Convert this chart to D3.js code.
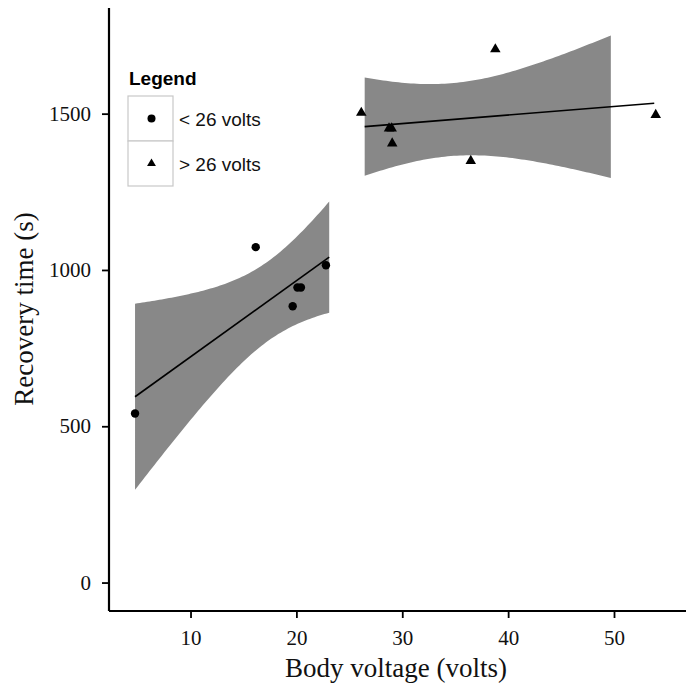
<!DOCTYPE html>
<html>
<head>
<meta charset="utf-8">
<script src="https://cdn.jsdelivr.net/npm/d3@7"></script>
<style>
  body { margin: 0; background: #fff; }
  svg { display: block; }
</style>
</head>
<body>
<script>
// groups split at 26 volts
const lowVolts = [4.76, 16.16, 20.1, 20.43, 19.65, 22.79];
const lowTime = [541, 1073, 944, 944, 884, 1015];
const highVolts = [26.13, 28.75, 29.0, 29.05, 38.79, 36.47, 53.94];
const highTime = [1503, 1453, 1453, 1405, 1706, 1349, 1496];

// x extents of the fitted line and its band
const lowLineRange = [4.76, 23.1];
const lowBandRange = [4.76, 23.1];
const highLineRange = [26.45, 53.8];
const highBandRange = [26.45, 49.7];

const xTicks = [10, 20, 30, 40, 50];
const yTicks = [0, 500, 1000, 1500];
const legendLabels = ["< 26 volts", "> 26 volts"];

// t quantiles (0.975) by degrees of freedom
const tQuant = { 4: 2.776445, 5: 2.570582 };

const width = 686, height = 683;

const svg = d3.select("body").append("svg")
    .attr("width", width)
    .attr("height", height);

const x = d3.scaleLinear().domain([2.3, 56.8]).range([109, 686]);
const y = d3.scaleLinear().domain([-91, 1838]).range([611, 8]);

// simple lm with 95% confidence band
function fitLm(xs, ys) {
    const n = xs.length;
    const mx = d3.mean(xs), my = d3.mean(ys);
    let sxx = 0, sxy = 0;
    xs.forEach(function (v, i) {
        sxx += (v - mx) * (v - mx);
        sxy += (v - mx) * (ys[i] - my);
    });
    const b = sxy / sxx, a = my - b * mx;
    let sse = 0;
    xs.forEach(function (v, i) {
        const r = ys[i] - (a + b * v);
        sse += r * r;
    });
    const s = Math.sqrt(sse / (n - 2));
    const t = tQuant[n - 2];
    return {
        pred: function (v) { return a + b * v; },
        half: function (v) { return t * s * Math.sqrt(1 / n + (v - mx) * (v - mx) / sxx); }
    };
}

function drawGroup(xs, ys, lineRange, bandRange) {
    const fit = fitLm(xs, ys);
    const grid = d3.range(0, 81).map(function (i) {
        return bandRange[0] + (bandRange[1] - bandRange[0]) * i / 80;
    });
    svg.append("path")
        .datum(grid)
        .attr("fill", "#888888")
        .attr("d", d3.area()
            .x(function (d) { return x(d); })
            .y0(function (d) { return y(fit.pred(d) - fit.half(d)); })
            .y1(function (d) { return y(fit.pred(d) + fit.half(d)); }));
    svg.append("path")
        .datum(lineRange)
        .attr("fill", "none")
        .attr("stroke", "#000")
        .attr("stroke-width", 1.6)
        .attr("d", d3.line()
            .x(function (d) { return x(d); })
            .y(function (d) { return y(fit.pred(d)); }));
}

drawGroup(lowVolts, lowTime, lowLineRange, lowBandRange);
drawGroup(highVolts, highTime, highLineRange, highBandRange);

// points
svg.append("g").selectAll("circle")
    .data(d3.zip(lowVolts, lowTime))
    .join("circle")
    .attr("cx", function (d) { return x(d[0]); })
    .attr("cy", function (d) { return y(d[1]); })
    .attr("r", 4.2)
    .attr("fill", "#000");

const tri = d3.symbol().type(d3.symbolTriangle).size(48);
svg.append("g").selectAll("path")
    .data(d3.zip(highVolts, highTime))
    .join("path")
    .attr("transform", function (d) { return "translate(" + x(d[0]) + "," + y(d[1]) + ")"; })
    .attr("d", tri)
    .attr("fill", "#000");

// axes
const xAxis = svg.append("g")
    .attr("transform", "translate(0,611)")
    .call(d3.axisBottom(x).tickValues(xTicks).tickSize(7).tickPadding(12).tickFormat(d3.format("d")));
const yAxis = svg.append("g")
    .attr("transform", "translate(109,0)")
    .call(d3.axisLeft(y).tickValues(yTicks).tickSize(7).tickPadding(11).tickFormat(d3.format("d")));

[xAxis, yAxis].forEach(function (g) {
    g.select(".domain").attr("stroke", "#000").attr("stroke-width", 2.2);
    g.selectAll(".tick line").attr("stroke", "#000").attr("stroke-width", 1.8);
    g.selectAll(".tick text")
        .attr("fill", "#111")
        .style("font-family", "'Liberation Serif', 'Times New Roman', serif")
        .style("font-size", "21px");
});
xAxis.select(".domain").attr("d", "M109,0H686");
yAxis.select(".domain").attr("d", "M0,8V611");

svg.append("text")
    .attr("x", 396)
    .attr("y", 677)
    .attr("text-anchor", "middle")
    .style("font-family", "'Liberation Serif', 'Times New Roman', serif")
    .style("font-size", "27px")
    .attr("fill", "#111")
    .text("Body voltage (volts)");

svg.append("text")
    .attr("transform", "translate(33,309) rotate(-90)")
    .attr("text-anchor", "middle")
    .style("font-family", "'Liberation Serif', 'Times New Roman', serif")
    .style("font-size", "27px")
    .attr("fill", "#111")
    .text("Recovery time (s)");

// legend
const leg = svg.append("g").attr("transform", "translate(128,0)");
leg.append("text")
    .attr("x", 1)
    .attr("y", 85)
    .style("font-family", "'Liberation Sans', Arial, sans-serif")
    .style("font-size", "19px")
    .style("font-weight", "bold")
    .text("Legend");

const keys = leg.selectAll("g.key")
    .data(legendLabels)
    .join("g")
    .attr("class", "key")
    .attr("transform", function (d, i) { return "translate(0," + (96 + i * 45) + ")"; });

keys.append("rect")
    .attr("width", 45)
    .attr("height", 45)
    .attr("fill", "#fff")
    .attr("stroke", "#c8c8c8")
    .attr("stroke-width", 1.2);

keys.filter(function (d, i) { return i === 0; })
    .append("circle")
    .attr("cx", 23.5)
    .attr("cy", 22.5)
    .attr("r", 4)
    .attr("fill", "#000");

keys.filter(function (d, i) { return i === 1; })
    .append("path")
    .attr("transform", "translate(23.5,22.5)")
    .attr("d", d3.symbol().type(d3.symbolTriangle).size(34))
    .attr("fill", "#000");

keys.append("text")
    .attr("x", 51)
    .attr("y", 30)
    .style("font-family", "'Liberation Sans', Arial, sans-serif")
    .style("font-size", "19px")
    .attr("fill", "#111")
    .text(function (d) { return d; });
</script>
</body>
</html>
